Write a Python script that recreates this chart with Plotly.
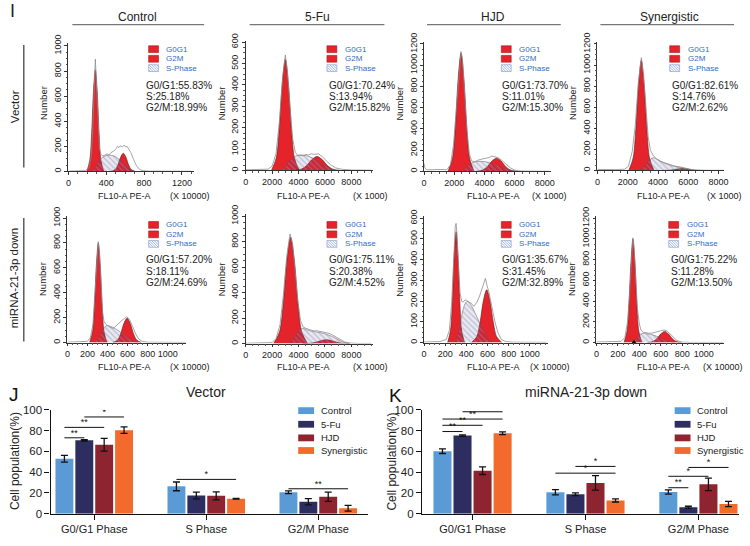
import plotly.graph_objects as go

W, H = 750, 546
FONT = "Arial, Liberation Sans, sans-serif"

RED = "#e5232a"
EDGE = "#5c1a1c"
GRAY = "#8d8d8d"
BLUE_TXT = "#2f6cc4"
HATCH = "#7d98cf"

# ---------------- flow cytometry histograms, (x, count) ----------------
# Vector / Control  (x in units of 10000)
vec_ctrl_g1 = [(195, 0), (226, 89), (246, 304), (265, 634), (285, 810), (305, 634), (324, 304), (344, 89), (375, 0)]
vec_ctrl_g2 = [(452, 0), (496, 16), (524, 54), (552, 113), (580, 145), (608, 113), (636, 54), (664, 16), (708, 0)]
vec_ctrl_s = [(240, 0), (280, 30), (320, 80), (360, 112), (410, 128), (460, 128), (510, 112), (560, 80), (610, 40), (660, 10), (700, 0)]
vec_ctrl_total = [(0, 2), (100, 3), (180, 6), (215, 25), (240, 110), (255, 290), (268, 560), (278, 800), (285, 895),
                  (292, 780), (303, 560), (315, 330), (328, 190), (340, 140), (360, 125), (385, 130), (410, 140),
                  (430, 130), (450, 150), (475, 160), (500, 175), (520, 200), (535, 190), (550, 205), (570, 195),
                  (590, 210), (605, 195), (620, 200), (640, 175), (660, 150), (690, 95), (720, 45), (750, 18),
                  (790, 5), (850, 2), (1300, 1)]
vec_ctrl_stats = ["G0/G1:55.83%", "S:25.18%", "G2/M:18.99%"]

# Vector / 5-Fu  (x in units of 1000)
vec_5fu_g1 = [(1944, 0), (2307, 57), (2538, 195), (2769, 406), (3000, 520), (3231, 406), (3462, 195), (3693, 57), (4056, 0)]
vec_5fu_g2 = [(3640, 0), (4245, 7), (4630, 24), (5015, 51), (5400, 65), (5785, 51), (6170, 24), (6555, 7), (7160, 0)]
vec_5fu_s = [(2700, 0), (3000, 20), (3400, 50), (3800, 68), (4300, 72), (4800, 65), (5300, 50), (5800, 30), (6300, 12), (6800, 0)]
vec_5fu_total = [(0, 3), (1000, 4), (1700, 6), (2000, 20), (2300, 80), (2550, 230), (2800, 440), (3000, 540),
                 (3150, 470), (3350, 300), (3550, 150), (3750, 85), (3950, 70), (4150, 72), (4350, 68), (4550, 75),
                 (4750, 72), (4950, 78), (5200, 75), (5500, 78), (5800, 65), (6100, 45), (6400, 28), (6800, 12),
                 (7300, 5), (8000, 2), (9500, 1)]
vec_5fu_stats = ["G0/G1:70.24%", "S:13.94%", "G2/M:15.82%"]

# Vector / HJD  (x in units of 1000)
vec_hjd_g1 = [(1586, 0), (1883, 123), (2072, 418), (2261, 873), (2450, 1115), (2639, 873), (2828, 418), (3017, 123), (3314, 0)]
vec_hjd_g2 = [(3424, 0), (3897, 14), (4198, 47), (4499, 98), (4800, 125), (5101, 98), (5402, 47), (5703, 14), (6176, 0)]
vec_hjd_s = [(2400, 0), (2700, 25), (3000, 65), (3300, 88), (3700, 95), (4100, 90), (4500, 75), (4900, 55), (5300, 30), (5700, 12), (6100, 0)]
vec_hjd_total = [(0, 75), (60, 30), (200, 15), (800, 20), (1200, 18), (1500, 15), (1750, 60), (1950, 250),
                 (2150, 600), (2350, 1000), (2450, 1130), (2550, 1050), (2700, 700), (2850, 380), (3000, 170),
                 (3150, 100), (3350, 90), (3550, 105), (3800, 115), (4050, 120), (4300, 130), (4500, 145),
                 (4700, 140), (4900, 130), (5150, 105), (5400, 70), (5700, 35), (6000, 12), (6400, 4), (7000, 2), (8300, 1)]
vec_hjd_stats = ["G0/G1:73.70%", "S:11.01%", "G2/M:15.30%"]

# Vector / Synergistic  (x in units of 1000)
vec_syn_g1 = [(2068, 0), (2354, 115), (2536, 392), (2718, 818), (2900, 1045), (3082, 818), (3264, 392), (3446, 115), (3732, 0)]
vec_syn_g2 = [(4256, 0), (4718, 2), (5012, 7), (5306, 14), (5600, 18), (5894, 14), (6188, 7), (6482, 2), (6944, 0)]
vec_syn_s = [(2800, 0), (3100, 40), (3400, 95), (3700, 120), (4000, 100), (4400, 70), (4800, 50), (5200, 35), (5600, 25), (6000, 12), (6400, 0)]
vec_syn_total = [(0, 10), (500, 8), (1200, 8), (1800, 12), (2050, 40), (2300, 180), (2500, 430), (2700, 830),
                 (2900, 1070), (3050, 900), (3200, 580), (3350, 320), (3500, 190), (3700, 140), (3900, 110),
                 (4200, 85), (4500, 70), (4800, 55), (5100, 42), (5400, 35), (5700, 28), (6000, 15), (6300, 6),
                 (6800, 2), (8300, 1)]
vec_syn_stats = ["G0/G1:82.61%", "S:14.76%", "G2/M:2.62%"]

# miRNA-21-3p down / Control  (x in units of 10000)
down_ctrl_g1 = [(222, 0), (251, 88), (270, 300), (289, 626), (308, 800), (327, 626), (346, 300), (365, 88), (394, 0)]
down_ctrl_g2 = [(451, 0), (500, 21), (532, 73), (563, 153), (595, 195), (627, 153), (658, 73), (690, 21), (739, 0)]
down_ctrl_s = [(270, 0), (310, 40), (350, 100), (390, 135), (430, 130), (470, 115), (510, 95), (550, 70), (600, 40), (650, 15), (700, 0)]
down_ctrl_total = [(0, 3), (150, 4), (200, 10), (230, 40), (255, 150), (275, 400), (295, 720), (308, 810),
                   (320, 720), (335, 450), (350, 250), (365, 170), (385, 145), (405, 135), (430, 120), (460, 115),
                   (490, 140), (520, 165), (545, 180), (570, 195), (590, 205), (605, 200), (625, 175), (650, 130),
                   (680, 70), (710, 30), (745, 10), (800, 3), (1180, 1)]
down_ctrl_stats = ["G0/G1:57.20%", "S:18.11%", "G2/M:24.69%"]

# miRNA-21-3p down / 5-Fu  (x in units of 1000)
down_5fu_g1 = [(2120, 0), (2560, 92), (2840, 313), (3120, 654), (3400, 835), (3680, 654), (3960, 313), (4240, 92), (4680, 0)]
down_5fu_g2 = [(4340, 0), (4945, 3), (5330, 11), (5715, 23), (6100, 30), (6485, 23), (6870, 11), (7255, 3), (7860, 0)]
down_5fu_s = [(3300, 0), (3700, 50), (4000, 100), (4300, 120), (4700, 105), (5100, 95), (5500, 88), (5900, 80),
              (6300, 65), (6700, 48), (7100, 25), (7500, 8), (7900, 0)]
down_5fu_total = [(0, 2), (1500, 3), (2000, 8), (2300, 40), (2600, 150), (2850, 380), (3100, 680), (3350, 860),
                  (3550, 780), (3750, 560), (3950, 330), (4150, 180), (4350, 130), (4550, 120), (4800, 110),
                  (5100, 100), (5400, 100), (5700, 95), (6000, 90), (6300, 80), (6600, 65), (6900, 50), (7200, 30),
                  (7500, 12), (7900, 4), (8500, 1), (9500, 1)]
down_5fu_stats = ["G0/G1:75.11%", "S:20.38%", "G2/M:4.52%"]

# miRNA-21-3p down / HJD  (x in units of 10000)
down_hjd_g1 = [(223, 0), (250, 59), (268, 201), (285, 419), (303, 535), (320, 419), (338, 201), (355, 59), (383, 0)]
down_hjd_g2 = [(448, 0), (497, 28), (529, 96), (560, 200), (592, 255), (623, 200), (655, 96), (686, 28), (736, 0)]
down_hjd_s = [(300, 0), (330, 60), (360, 140), (390, 190), (415, 200), (445, 180), (480, 145), (520, 100), (560, 55), (600, 20), (640, 0)]
down_hjd_total = [(0, 3), (150, 5), (210, 15), (240, 60), (262, 200), (280, 420), (295, 560), (303, 575),
                  (312, 520), (325, 380), (340, 240), (355, 200), (370, 195), (385, 205), (400, 205), (420, 195),
                  (445, 190), (470, 175), (500, 195), (525, 225), (550, 265), (570, 300), (580, 310), (595, 275),
                  (615, 240), (640, 175), (670, 100), (700, 45), (730, 15), (770, 5), (850, 2), (1160, 1)]
down_hjd_stats = ["G0/G1:35.67%", "S:31.45%", "G2/M:32.89%"]

# miRNA-21-3p down / Synergistic  (x in units of 10000)
down_syn_g1 = [(257, 0), (285, 110), (303, 375), (322, 780), (340, 1000), (358, 780), (376, 375), (395, 110), (423, 0)]
down_syn_g2 = [(475, 0), (530, 12), (565, 40), (600, 84), (635, 108), (670, 84), (705, 40), (740, 12), (795, 0)]
down_syn_s = [(340, 0), (370, 40), (400, 75), (430, 88), (470, 85), (510, 78), (550, 65), (590, 48), (630, 30), (680, 12), (730, 0)]
down_syn_total = [(0, 5), (150, 6), (230, 12), (265, 50), (290, 200), (310, 480), (326, 850), (339, 1010),
                  (352, 900), (367, 600), (382, 330), (400, 180), (415, 120), (435, 100), (460, 95), (490, 90),
                  (520, 92), (550, 98), (580, 108), (610, 118), (635, 120), (660, 110), (690, 80), (720, 45),
                  (750, 20), (790, 6), (850, 2), (1180, 1)]
down_syn_stats = ["G0/G1:75.22%", "S:11.28%", "G2/M:13.50%"]
down_syn_marker = 350

conditions = ["Control", "5-Fu", "HJD", "Synergistic"]
rows = ["Vector", "miRNA-21-3p down"]
legend_items = ["G0G1", "G2M", "S-Phase"]

# ---------------- bar charts (J, K) ----------------
phases = ["G0/G1 Phase", "S Phase", "G2/M Phase"]
bar_colors = ["#5b9bd5", "#2d2d5f", "#8e2430", "#f26b2d"]

vec_control = [52.8, 26.3, 20.6]
vec_control_err = [3.2, 4.2, 1.3]
vec_5fu = [70.6, 17.5, 11.6]
vec_5fu_err = [0.7, 3.2, 3.0]
vec_hjd = [66.3, 17.2, 16.3]
vec_hjd_err = [6.2, 3.8, 4.5]
vec_syn = [80.3, 14.4, 5.3]
vec_syn_err = [3.1, 0.4, 2.8]

down_control = [60.1, 20.6, 20.9]
down_control_err = [2.2, 2.5, 2.0]
down_5fu = [75.1, 18.7, 6.2]
down_5fu_err = [0.7, 1.3, 1.0]
down_hjd = [41.4, 29.6, 28.3]
down_hjd_err = [3.7, 7.0, 6.0]
down_syn = [77.3, 12.8, 9.3]
down_syn_err = [1.3, 1.5, 2.5]

# significance brackets: phase index, from group, to group, height, label
vec_sig_phase = [0, 0, 0, 1, 2]
vec_sig_from = [0, 0, 1, 0, 0]
vec_sig_to = [1, 2, 3, 3, 3]
vec_sig_y = [73, 83, 93, 33, 24]
vec_sig_label = ["**", "**", "*", "*", "**"]

down_sig_phase = [0, 0, 0, 0, 1, 1, 2, 2, 2]
down_sig_from = [0, 0, 0, 1, 1, 0, 0, 0, 1]
down_sig_to = [1, 2, 3, 3, 3, 3, 1, 2, 3]
down_sig_y = [79, 85, 91, 98, 45.5, 39, 25, 36, 44.5]
down_sig_label = ["**", "**", "**", "***", "*", "*", "**", "*", "*"]

BARGAP = 0.29

fig = go.Figure()
annotations = []
shapes = []


def fx(p):
    return p / W


def fy(p):
    return 1 - p / H


def text(x, y, s, size, color="#1a1a1a", angle=0, xanchor="center", yanchor="middle"):
    annotations.append(dict(x=fx(x), y=fy(y), xref="paper", yref="paper", text=s, showarrow=False,
                            font=dict(size=size, color=color, family=FONT), textangle=angle,
                            xanchor=xanchor, yanchor=yanchor))


def line(x0, y0, x1, y1, color="#555", width=1.0):
    shapes.append(dict(type="line", xref="paper", yref="paper", x0=fx(x0), y0=fy(y0), x1=fx(x1), y1=fy(y1),
                       line=dict(color=color, width=width)))


def rect(x0, y0, x1, y1, fill, edge, width=0.6):
    shapes.append(dict(type="rect", xref="paper", yref="paper", x0=fx(x0), y0=fy(y0), x1=fx(x1), y1=fy(y1),
                       fillcolor=fill, line=dict(color=edge, width=width)))


def hatch_box(x0, y0, x1, y1):
    rect(x0, y0, x1, y1, "white", HATCH, 0.6)
    h = y1 - y0
    s = x0 - h + 2
    while s < x1:
        ax, ay, bx, by = s, y0, s + h, y1
        if ax < x0:
            ay += x0 - ax
            ax = x0
        if bx > x1:
            by -= bx - x1
            bx = x1
        if bx > ax:
            line(ax, ay, bx, by, HATCH, 0.7)
        s += 2.6


def pts(pairs):
    return [p[0] for p in pairs], [p[1] for p in pairs]


# layout geometry of each histogram panel (pixels)
# data..., x0, x1, ytop, ybottom, xmax, ymax, xdtick, ydtick, unit, title dx, unit dx, legend dx, stats dx, row
hist_panels = [
    (vec_ctrl_g1, vec_ctrl_g2, vec_ctrl_s, vec_ctrl_total, vec_ctrl_stats, 66, 193, 35, 167, 1330, 1023, 400, 200, "(X 10000)", 57, 123, 81, 76, 0),
    (vec_5fu_g1, vec_5fu_g2, vec_5fu_s, vec_5fu_total, vec_5fu_stats, 245, 373, 33, 166, 9600, 605, 2000, 100, "(X 1000)", 58, 126, 82, 82, 0),
    (vec_hjd_g1, vec_hjd_g2, vec_hjd_s, vec_hjd_total, vec_hjd_stats, 425, 553, 34, 167, 8400, 1218, 2000, 200, "(X 1000)", 70, 127, 78, 77, 0),
    (vec_syn_g1, vec_syn_g2, vec_syn_s, vec_syn_total, vec_syn_stats, 600, 728, 34, 166, 8370, 1218, 2000, 200, "(X 1000)", 67, 128, 73, 73, 0),
    (down_ctrl_g1, down_ctrl_g2, down_ctrl_s, down_ctrl_total, down_ctrl_stats, 65, 185, 213, 343, 1185, 1015, 200, 200, "(X 10000)", 58, 124, 82, 77, 1),
    (down_5fu_g1, down_5fu_g2, down_5fu_s, down_5fu_total, down_5fu_stats, 245, 373, 211, 344, 9600, 1015, 2000, 200, "(X 1000)", 58, 126, 82, 82, 1),
    (down_hjd_g1, down_hjd_g2, down_hjd_s, down_hjd_total, down_hjd_stats, 425, 550, 213, 343, 1170, 610, 200, 100, "(X 10000)", 70, 127, 78, 77, 1),
    (down_syn_g1, down_syn_g2, down_syn_s, down_syn_total, down_syn_stats, 599, 728, 213, 343, 1190, 1220, 200, 200, "(X 10000)", 68, 128, 73, 73, 1),
]

legend_y = [[41.3, 51.2, 60.8], [222, 231.7, 241.5]]
stats_y = [[79, 90, 101], [258, 269.5, 281]]
xlabel_y = [192, 368]
number_y = [97, 278]

axes = {}
for i, p in enumerate(hist_panels, start=1):
    (g1, g2, sp, tot, stats, x0, x1, yt, yb, xmax, ymax, xdt, ydt, unit, tdx, udx, ldx, sdx, row) = p
    sfx = "" if i == 1 else str(i)
    xa, ya = "x" + sfx, "y" + sfx
    for peak in (g1, g2):
        px_, py_ = pts(peak)
        fig.add_trace(go.Scatter(x=px_, y=py_, xaxis=xa, yaxis=ya, mode="lines", fill="tozeroy",
                                 fillcolor=RED, line=dict(color=EDGE, width=0.6, shape="spline", smoothing=0.9),
                                 hoverinfo="skip", showlegend=False))
    sx, sy = pts(sp)
    fig.add_trace(go.Scatter(x=sx, y=sy, xaxis=xa, yaxis=ya, mode="lines", fill="tozeroy",
                             fillcolor="rgba(0,0,0,0)",
                             fillpattern=dict(shape="\\", fgcolor=HATCH, bgcolor="rgba(70,30,70,0.1)",
                                              size=4, solidity=0.3),
                             line=dict(color="#6a5060", width=0.5, shape="spline", smoothing=0.9),
                             hoverinfo="skip", showlegend=False))
    tx, ty = pts(tot)
    fig.add_trace(go.Scatter(x=tx, y=ty, xaxis=xa, yaxis=ya, mode="lines",
                             line=dict(color=GRAY, width=0.8),
                             hoverinfo="skip", showlegend=False))
    if i == 8:
        fig.add_trace(go.Scatter(x=[down_syn_marker], y=[0], xaxis=xa, yaxis=ya, mode="markers",
                                 marker=dict(symbol="triangle-up", size=5, color="black"),
                                 cliponaxis=False, hoverinfo="skip", showlegend=False))

    axes["xaxis" + sfx] = dict(domain=[fx(x0), fx(x1)], range=[0, xmax], anchor=ya, showline=True,
                               linecolor="#333", linewidth=0.8, ticks="outside", ticklen=3, tickcolor="#333",
                               tick0=0, dtick=xdt, tickangle=0, tickfont=dict(size=9, color="#222", family=FONT),
                               showgrid=False, zeroline=False, fixedrange=True,
                               minor=dict(ticks="outside", ticklen=1.5, dtick=xdt / 4, tickcolor="#555"))
    axes["yaxis" + sfx] = dict(domain=[fy(yb), fy(yt)], range=[0, ymax], anchor=xa, showline=True,
                               linecolor="#333", linewidth=0.8, ticks="outside", ticklen=3, tickcolor="#333",
                               tick0=0, dtick=ydt, tickangle=-90, tickfont=dict(size=9, color="#222", family=FONT),
                               showgrid=False, zeroline=False, fixedrange=True,
                               minor=dict(ticks="outside", ticklen=1.5, dtick=ydt / 4, tickcolor="#555"))

    # panel legend
    for k, name in enumerate(legend_items):
        cy = legend_y[row][k]
        bx = x0 + ldx
        if k < 2:
            rect(bx, cy - 3.5, bx + 10, cy + 3.5, RED, "#a01c20")
        else:
            hatch_box(bx, cy - 3.5, bx + 10, cy + 3.5)
        text(bx + 16, cy, name, 8, BLUE_TXT, xanchor="left")
    for k, s in enumerate(stats):
        text(x0 + sdx, stats_y[row][k], s, 10, "#222", xanchor="left")
    text(x0 + tdx, xlabel_y[row], "FL10-A PE-A", 9, "#222")
    text(x0 + udx, xlabel_y[row], unit, 9, "#222")
    text(x0 - 25, number_y[row], "Number", 9.5, "#222", angle=-90)

# column headers and row labels
header_x = [136, 317, 495, 673]
header_lines = [(70, 203), (249, 385), (428, 563), (603, 738)]
for c, name in enumerate(conditions):
    text(header_x[c], 8, name, 12, "#222")
    line(header_lines[c][0], 16, header_lines[c][1], 16, "#777", 1.3)
row_y = [100, 277]
row_lines = [(37, 163), (215, 342)]
for r, name in enumerate(rows):
    text(12, row_y[r], name, 11.5, "#222", angle=-90)
    line(21, row_lines[r][0], 21, row_lines[r][1], "#444", 1.3)
text(10, 14, "I", 18, "#222", yanchor="bottom")

# ---------------- bar charts ----------------
slot = (1 - BARGAP) / 4


def bar_panel(sfx, values, errors, sig, x0, x1, xr, leg_x, title_x, title, ylab_x):
    xa, ya = "x" + sfx, "y" + sfx
    for g, name in enumerate(conditions):
        fig.add_trace(go.Bar(x=[0, 1, 2], y=values[g], name=name, xaxis=xa, yaxis=ya,
                             marker=dict(color=bar_colors[g], line=dict(width=0)),
                             error_y=dict(type="data", array=errors[g], color="#111", thickness=1.3, width=3.5),
                             hoverinfo="skip", showlegend=False))
    s_phase, s_from, s_to, s_y, s_lab = sig
    for k in range(len(s_phase)):
        xa0 = s_phase[k] + (s_from[k] - 1.5) * slot
        xa1 = s_phase[k] + (s_to[k] - 1.5) * slot
        fig.add_trace(go.Scatter(x=[xa0, xa1], y=[s_y[k], s_y[k]], xaxis=xa, yaxis=ya, mode="lines",
                                 line=dict(color="#111", width=1), hoverinfo="skip", showlegend=False))
        fig.add_trace(go.Scatter(x=[(xa0 + xa1) / 2], y=[s_y[k]], xaxis=xa, yaxis=ya, mode="text",
                                 text=[s_lab[k]], textposition="top center",
                                 textfont=dict(size=9, color="#111", family=FONT),
                                 hoverinfo="skip", showlegend=False))
    axes["xaxis" + sfx] = dict(domain=[fx(x0), fx(x1)], range=xr, anchor=ya, showline=True,
                               linecolor="#111", linewidth=1.2, ticks="outside", ticklen=5, tickwidth=1.2,
                               tickcolor="#111", tickvals=[0, 1, 2], ticktext=phases,
                               tickfont=dict(size=11, color="#222", family=FONT),
                               showgrid=False, zeroline=False, fixedrange=True)
    axes["yaxis" + sfx] = dict(domain=[fy(519), fy(412)], range=[0, 100], anchor=xa, showline=True,
                               linecolor="#111", linewidth=1.2, ticks="outside", ticklen=5, tickwidth=1.2,
                               tickcolor="#111", tick0=0, dtick=20,
                               tickfont=dict(size=11.5, color="#222", family=FONT),
                               showgrid=False, zeroline=False, fixedrange=True)
    leg_y = [413, 427, 441, 454]
    for g, name in enumerate(conditions):
        rect(leg_x, leg_y[g] - 3.5, leg_x + 16, leg_y[g] + 3.5, bar_colors[g], bar_colors[g], 0)
        text(leg_x + 21, leg_y[g], name, 9.5, "#222", xanchor="left")
    text(title_x, 394, title, 14, "#222")
    text(ylab_x, 465, "Cell population(%)", 12, "#222", angle=-90)


bar_panel("9", [vec_control, vec_5fu, vec_hjd, vec_syn],
          [vec_control_err, vec_5fu_err, vec_hjd_err, vec_syn_err],
          (vec_sig_phase, vec_sig_from, vec_sig_to, vec_sig_y, vec_sig_label),
          48, 368, [-0.39, 2.44], 298, 205, "Vector", 12)
bar_panel("10", [down_control, down_5fu, down_hjd, down_syn],
          [down_control_err, down_5fu_err, down_hjd_err, down_syn_err],
          (down_sig_phase, down_sig_from, down_sig_to, down_sig_y, down_sig_label),
          423, 743, [-0.447, 2.36], 678, 588, "miRNA-21-3p down", 393)
text(11, 396, "J", 19, "#111")
text(396, 397, "K", 19, "#111")

fig.update_layout(width=W, height=H, margin=dict(l=0, r=0, t=0, b=0), paper_bgcolor="white",
                  plot_bgcolor="white", barmode="group", bargap=BARGAP, bargroupgap=0.1,
                  font=dict(family=FONT), annotations=annotations, shapes=shapes, **axes)

fig.write_html("out.html", config={"displayModeBar": False},
               post_script="document.body.style.margin='0';document.body.style.overflow='hidden';")
